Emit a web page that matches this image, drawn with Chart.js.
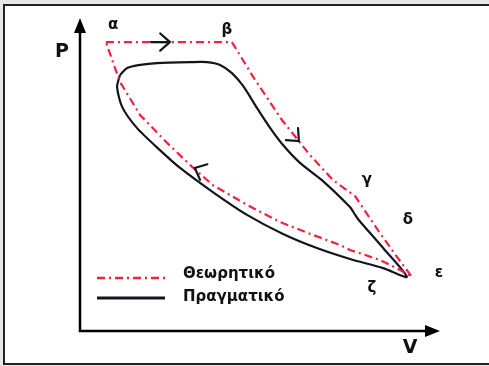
<!DOCTYPE html>
<html>
<head>
<meta charset="utf-8">
<script src="https://cdn.jsdelivr.net/npm/chart.js@4.4.1/dist/chart.umd.min.js"></script>
<style>
  html, body { margin: 0; padding: 0; background: #fff; }
  #wrap { width: 489px; height: 366px; }
</style>
</head>
<body>
<div id="wrap"><canvas id="chart-1" width="489" height="366"></canvas></div>
<script>
// theoretical cycle (red dash-dot), clockwise from α
const theoV = [0.72, 4.22, 4.81, 5.61, 6.39, 7.03, 7.64, 8.33, 8.81, 9.22, 8.89, 8.33, 7.50, 7.22, 6.47, 5.56, 4.64, 3.69, 3.06, 2.42, 1.67, 1.11, 0.72];
const theoP = [9.23, 9.23, 8.12, 6.74, 5.62, 4.82, 4.31, 3.13, 2.36, 1.73, 1.95, 2.27, 2.59, 2.75, 3.07, 3.48, 4.03, 4.66, 5.30, 6.01, 6.90, 7.96, 9.23];

// real cycle (dark solid)
const realV = [1.11, 1.31, 1.67, 2.14, 3.06, 3.53, 3.89, 4.22, 4.53, 4.92, 5.28, 5.64, 6.11, 6.75, 7.50, 7.61, 7.72, 8.42, 9.08, 8.42, 7.50, 6.58, 5.64, 4.64, 3.69, 2.78, 2.22, 1.58, 1.17, 1.03, 1.11];
const realP = [8.18, 8.40, 8.50, 8.56, 8.59, 8.59, 8.50, 8.24, 7.83, 7.12, 6.49, 5.94, 5.37, 4.79, 3.96, 3.77, 3.58, 2.65, 1.73, 2.01, 2.30, 2.65, 3.10, 3.71, 4.44, 5.21, 5.78, 6.49, 7.16, 7.80, 8.18];

// state labels
const stateNames = ["α", "β", "γ", "δ", "ε", "ζ"];
const stateV = [0.92, 4.08, 7.97, 9.11, 9.97, 8.11];
const stateP = [9.78, 9.62, 4.82, 3.55, 1.85, 1.37];

// direction arrows (tip position, heading in degrees on screen)
const arrowV = [2.50, 6.08, 3.19];
const arrowP = [9.23, 6.07, 5.21];
const arrowDeg = [0, 45, 205];

const seriesNames = ["Θεωρητικό", "Πραγματικό"];

const RED = "#f4213f";
const DARK = "#14141f";
const FONT = "bold 15px 'DejaVu Sans', sans-serif";

function pts(xs, ys) {
  return xs.map((x, i) => ({ x: x, y: ys[i] }));
}

const frame = {
  id: "frame",
  beforeDraw(chart) {
    const c = chart.ctx;
    c.save();
    c.fillStyle = "#e6e6e6";
    c.fillRect(0, 0, chart.width, chart.height);
    c.fillStyle = "#fff";
    c.fillRect(4, 5, chart.width, 359);
    c.strokeStyle = "#222";
    c.lineWidth = 2;
    c.beginPath();
    c.moveTo(chart.width, 5);
    c.lineTo(4, 5);
    c.lineTo(4, 364);
    c.lineTo(chart.width, 364);
    c.stroke();
    c.restore();
  },
  beforeDatasetsDraw(chart) {
    const c = chart.ctx;
    const xs = chart.scales.x, ys = chart.scales.y;
    const x0 = xs.getPixelForValue(0), y0 = ys.getPixelForValue(0);
    const xe = xs.getPixelForValue(10), ye = ys.getPixelForValue(10);
    c.save();
    c.strokeStyle = "#000";
    c.fillStyle = "#000";
    c.lineWidth = 2.5;
    c.beginPath();
    c.moveTo(x0, ye + 10);
    c.lineTo(x0, y0);
    c.lineTo(xe - 10, y0);
    c.stroke();
    // arrowheads
    c.beginPath();
    c.moveTo(x0, ye);
    c.lineTo(x0 - 6, ye + 15);
    c.lineTo(x0 + 6, ye + 15);
    c.closePath();
    c.fill();
    c.beginPath();
    c.moveTo(xe, y0);
    c.lineTo(xe - 15, y0 - 6);
    c.lineTo(xe - 15, y0 + 6);
    c.closePath();
    c.fill();
    c.restore();
  },
  afterDraw(chart) {
    const c = chart.ctx;
    const xs = chart.scales.x, ys = chart.scales.y;
    c.save();
    c.fillStyle = "#111";
    c.font = FONT;
    c.textAlign = "center";
    c.textBaseline = "middle";
    stateNames.forEach((n, i) => {
      c.fillText(n, xs.getPixelForValue(stateV[i]), ys.getPixelForValue(stateP[i]));
    });
    c.font = "bold 19px 'DejaVu Sans', sans-serif";
    c.fillText("P", xs.getPixelForValue(-0.5), ys.getPixelForValue(8.91));
    c.fillText("V", xs.getPixelForValue(9.17), ys.getPixelForValue(-0.54));

    // direction chevrons
    c.strokeStyle = DARK;
    c.lineWidth = 2.2;
    c.lineCap = "round";
    arrowV.forEach((v, i) => {
      const tx = xs.getPixelForValue(v), ty = ys.getPixelForValue(arrowP[i]);
      const a = arrowDeg[i] * Math.PI / 180;
      const len = 13;
      c.beginPath();
      c.moveTo(tx - len * Math.cos(a - 0.72), ty - len * Math.sin(a - 0.72));
      c.lineTo(tx, ty);
      c.lineTo(tx - len * Math.cos(a + 0.72), ty - len * Math.sin(a + 0.72));
      if (i === 0) {
        c.moveTo(tx, ty);
        c.lineTo(tx - 19, ty);
      }
      c.stroke();
    });

    // legend
    c.lineCap = "butt";
    c.strokeStyle = RED;
    c.lineWidth = 2.5;
    c.setLineDash([8, 4, 2, 4]);
    c.beginPath();
    c.moveTo(97, 278);
    c.lineTo(165, 278);
    c.stroke();
    c.setLineDash([]);
    c.strokeStyle = DARK;
    c.lineWidth = 3;
    c.beginPath();
    c.moveTo(97, 298);
    c.lineTo(165, 298);
    c.stroke();
    c.font = FONT;
    c.textAlign = "left";
    c.fillStyle = "#111";
    c.fillText(seriesNames[0], 183, 274);
    c.fillText(seriesNames[1], 183, 297);
    c.restore();
  }
};

const ctx1 = document.getElementById("chart-1").getContext("2d");
const myChart1 = new Chart(ctx1, {
  type: "scatter",
  data: {
    datasets: [
      {
        label: seriesNames[0],
        data: pts(theoV, theoP),
        showLine: true,
        borderColor: RED,
        borderWidth: 2.2,
        borderDash: [8, 4, 2, 4],
        pointRadius: 0,
        tension: 0,
        clip: false
      },
      {
        label: seriesNames[1],
        data: pts(realV, realP),
        showLine: true,
        borderColor: DARK,
        borderWidth: 2.2,
        pointRadius: 0,
        tension: 0.25,
        clip: false
      }
    ]
  },
  options: {
    responsive: false,
    animation: false,
    layout: { padding: { left: 80, right: 49, top: 18, bottom: 35 } },
    plugins: { legend: { display: false }, tooltip: { enabled: false } },
    scales: {
      x: { type: "linear", min: 0, max: 10, display: false },
      y: { type: "linear", min: 0, max: 10, display: false }
    }
  },
  plugins: [frame]
});
</script>
</body>
</html>
